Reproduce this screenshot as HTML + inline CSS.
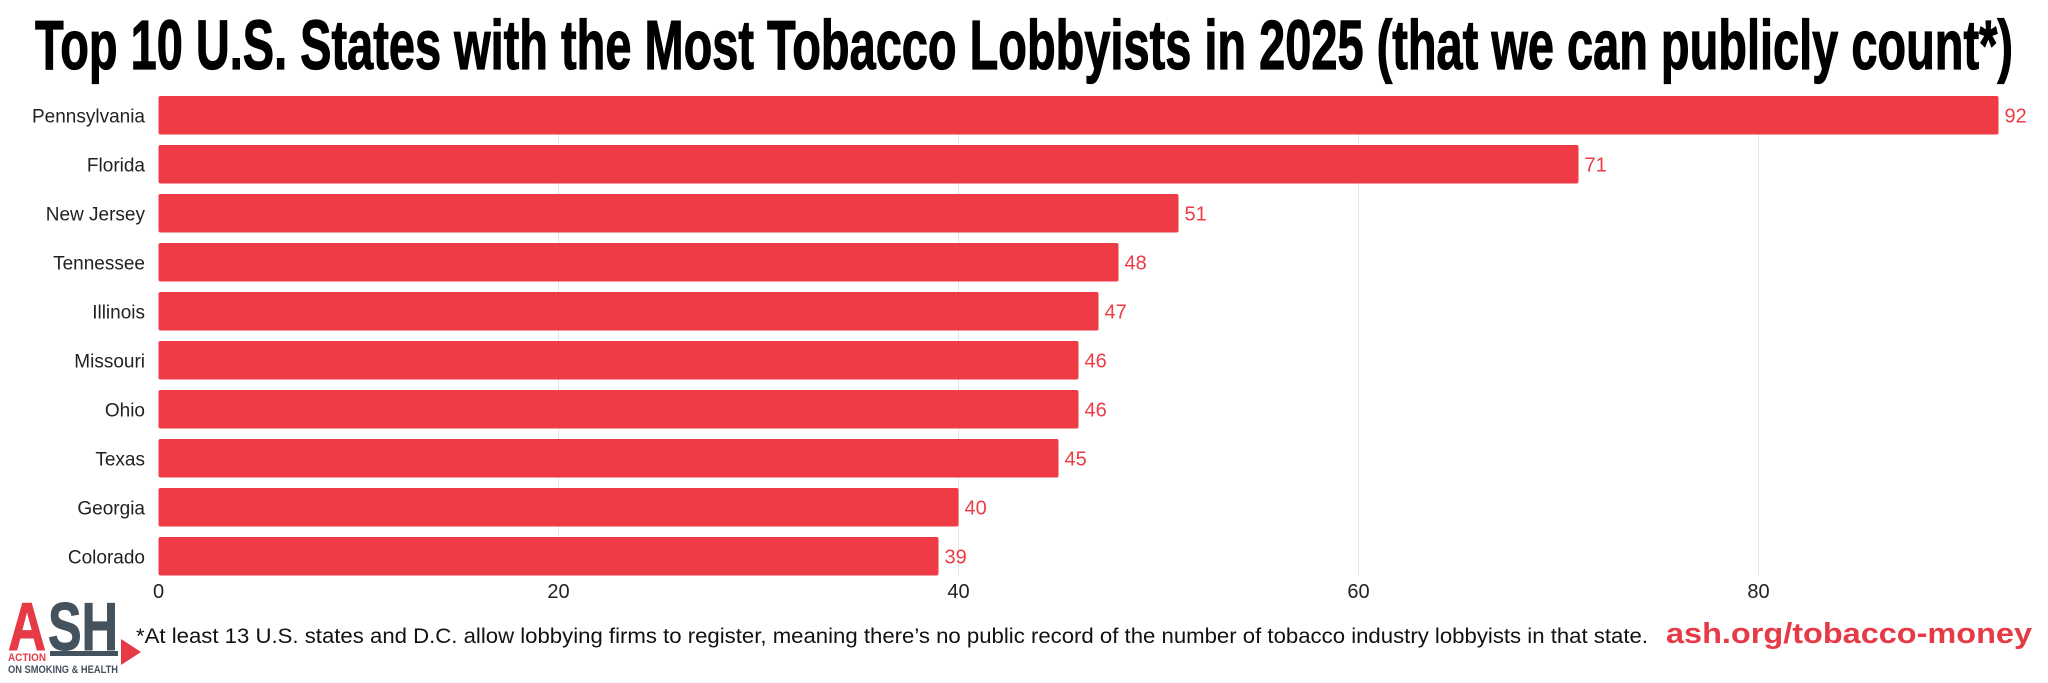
<!DOCTYPE html>
<html><head><meta charset="utf-8"><style>
html,body{margin:0;padding:0;background:#fff;}
svg{display:block;}
</style></head><body>
<svg id="chart" width="2048" height="683" viewBox="0 0 2048 683" xmlns="http://www.w3.org/2000/svg" font-family="'Liberation Sans', sans-serif">
<text x="35" y="69" font-family="'Liberation Sans',sans-serif" font-weight="bold" font-size="70" fill="#000" stroke="#000" stroke-width="1.2" textLength="1978" lengthAdjust="spacingAndGlyphs">Top 10 U.S. States with the Most Tobacco Lobbyists in 2025 (that we can publicly count*)</text>
<g id="grid"></g>
<g id="bars"></g>
<g id="ticks"></g>
<g>
<text x="8" y="650" font-family="'Liberation Sans',sans-serif" font-weight="bold" font-size="68" fill="#e63a46" stroke="#e63a46" stroke-width="1" textLength="38" lengthAdjust="spacingAndGlyphs">A</text>
<text x="48" y="650" font-family="'Liberation Sans',sans-serif" font-weight="bold" font-size="68" fill="#44525e" stroke="#44525e" stroke-width="1" textLength="70" lengthAdjust="spacingAndGlyphs">SH</text>
<text x="8" y="661" font-family="'Liberation Sans',sans-serif" font-weight="bold" font-size="11" fill="#e63a46" textLength="38" lengthAdjust="spacingAndGlyphs">ACTION</text>
<rect x="50" y="651" width="68" height="5" fill="#44525e"/>
<text x="8" y="673" font-family="'Liberation Sans',sans-serif" font-weight="bold" font-size="11" fill="#44525e" textLength="110" lengthAdjust="spacingAndGlyphs">ON SMOKING &amp; HEALTH</text>
<polygon points="121,639 141,652 121,665" fill="#e63a46"/>
</g>
<text x="136" y="643" font-size="21" fill="#111" textLength="1512" lengthAdjust="spacingAndGlyphs">*At least 13 U.S. states and D.C. allow lobbying firms to register, meaning there’s no public record of the number of tobacco industry lobbyists in that state.</text>
<text x="1666" y="643" font-size="29" font-weight="bold" fill="#e63a46" textLength="366" lengthAdjust="spacingAndGlyphs">ash.org/tobacco-money</text>
</svg>
<script>
const categories = ["Pennsylvania","Florida","New Jersey","Tennessee","Illinois","Missouri","Ohio","Texas","Georgia","Colorado"];
const values = [92,71,51,48,47,46,46,45,40,39];
const tickValues = [0,20,40,60,80];
const tickLabels = ["0","20","40","60","80"];

const NS = "http://www.w3.org/2000/svg";
const x0 = 158.5, pxPerUnit = 20.0;
const xScale = v => x0 + v * pxPerUnit;
const rowTop = 96, rowStep = 49.0, barH = 38.5;
const yScale = i => rowTop + i * rowStep;
function mk(tag, attrs, parent){ const e=document.createElementNS(NS,tag); for(const k in attrs) e.setAttribute(k,attrs[k]); parent.appendChild(e); return e; }
const grid = document.getElementById('grid'), bars = document.getElementById('bars'), ticks = document.getElementById('ticks');
tickValues.forEach((t,i)=>{
  if(t>0){
    const l = mk('line',{x1:xScale(t),x2:xScale(t),y1:rowTop,y2:rowTop+rowStep*(categories.length-1)+barH,stroke:'#e4e4e4','stroke-width':1},grid);
    
    
  }
  const tx = mk('text',{x:xScale(t),y:598,'font-size':20,fill:'#222','text-anchor':'middle'},ticks);
  tx.textContent = tickLabels[i];
  
  
});
categories.forEach((c,i)=>{
  const y = yScale(i);
  const r = mk('rect',{x:x0,y:y,width:xScale(values[i])-x0,height:barH,rx:2,fill:'#ee3b46'},bars);
  
  
  const lb = mk('text',{x:145,y:y+barH/2+7,'font-size':19,fill:'#222','text-anchor':'end'},bars);
  lb.textContent = c;
  
  
  const vl = mk('text',{x:xScale(values[i])+6,y:y+barH/2+7,'font-size':20,fill:'#ee3b46'},bars);
  vl.textContent = values[i];
  
  
});
</script>
</body></html>
